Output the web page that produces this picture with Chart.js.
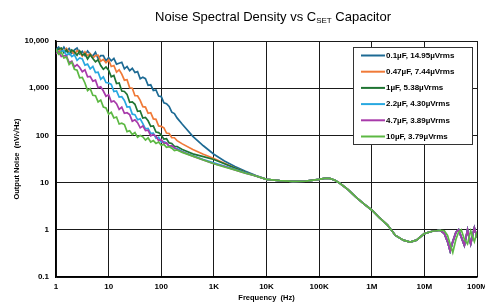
<!DOCTYPE html>
<html>
<head>
<meta charset="utf-8">
<script src="https://cdn.jsdelivr.net/npm/chart.js@4/dist/chart.umd.min.js"></script>
<style>
  html, body { margin: 0; padding: 0; background: #fff; }
  #wrap { width: 485px; height: 305px; }
</style>
</head>
<body>
<div id="wrap"><canvas id="noiseChart" width="485" height="305"></canvas></div>
<script>
// Frequency points (Hz), low / mid band shared by every capacitor curve
const freqLow = [1, 1.122, 1.259, 1.413, 1.585, 1.778, 1.995, 2.239, 2.512, 2.818, 3.162, 3.548, 3.981, 4.467, 5.012, 5.623, 6.31, 7.079, 7.943, 8.913,
  10, 11.22, 12.59, 14.13, 15.85, 17.78, 19.95, 22.39, 25.12, 28.18, 31.62, 35.48, 39.81, 44.67, 50.12, 56.23, 63.1, 70.79, 79.43, 89.13,
  100, 112.2, 125.9, 141.3, 158.5, 177.8, 199.5, 251.2, 398.1, 631, 1000, 1585, 2512, 3981, 6310];

// Output noise (nV/rtHz) for each C_SET value
const noise01 = [6610, 7413, 6026, 7413, 6026, 6918, 5495, 6457, 7079, 5370, 6026, 4898, 6166, 5248, 4786, 5754, 4266, 4898, 4898, 3802,
  4467, 3802, 4266, 3236, 3388, 3548, 2570, 2884, 2344, 2630, 2150, 2250, 1590, 1700, 1590, 1150, 1180, 895, 915, 680,
  665, 490, 470, 410, 310, 290, 235, 172, 95.5, 60.3, 39.8, 28.8, 21.9, 17.4, 14.1];
const noise047 = [6761, 5754, 6918, 5888, 6918, 5623, 6166, 5129, 6310, 5754, 4786, 5888, 4898, 5370, 4365, 4898, 5012, 3715, 4074, 3467,
  3981, 2884, 3020, 2188, 2455, 1995, 1479, 1514, 1023, 1000, 692, 692, 550, 407, 398, 295, 302, 224, 219, 158.5,
  155, 144.5, 112, 110, 89.1, 89.1, 77.6, 66.1, 50.1, 39.8, 32.4, 25.7, 20.4, 16.6, 13.8];
const noise1 = [6026, 6761, 7079, 5623, 6457, 5248, 6457, 5888, 5012, 6166, 5012, 5370, 4169, 5129, 4266, 3631, 3981, 3020, 2512, 2818,
  2399, 1738, 1862, 1259, 1288, 871, 851, 741, 501, 513, 457, 324, 331, 234, 240, 204, 155, 158.5, 117.5, 114.8,
  102.3, 83.2, 85.1, 69.2, 67.6, 58.9, 58.2, 50.1, 40.7, 35.5, 30.9, 25.1, 20.4, 16.6, 13.8];
const noise22 = [6607, 5495, 6026, 6310, 4898, 5623, 4677, 5129, 3890, 4365, 4169, 3090, 3236, 2570, 2884, 2138, 2188, 1549, 1738, 1318,
  1288, 1202, 851, 871, 646, 661, 550, 398, 407, 282, 275, 214, 224, 178, 138, 141, 110, 112, 87.1, 91.2,
  72.4, 74.1, 69.2, 58.9, 60.3, 53.7, 52.5, 45.7, 37.2, 30.9, 26.3, 22.4, 19.1, 16.2, 13.8];
const noise47 = [5370, 5888, 4677, 4898, 4786, 3467, 3715, 2818, 3162, 2754, 2239, 2455, 1738, 1778, 1413, 1479, 1023, 1072, 871, 676,
  724, 513, 537, 468, 355, 398, 295, 302, 275, 200, 214, 186, 144.5, 158.5, 125.9, 128.8, 97.7, 104.7, 95.5, 77.6,
  81.3, 67.6, 69.2, 58.9, 60.3, 55, 50.1, 44.7, 36.3, 30.2, 25.1, 21.9, 18.6, 15.8, 13.8];
const noise10 = [6607, 5248, 5754, 4365, 4571, 3162, 3548, 2512, 2399, 1660, 1698, 1288, 891, 977, 708, 692, 513, 562, 398, 380,
  282, 309, 234, 245, 174, 182, 170, 120, 125.9, 104.7, 114.8, 91.2, 100, 93.3, 79.4, 89.1, 72.4, 77.6, 67.6, 72.4,
  61.7, 64.6, 56.2, 57.5, 53.7, 47.9, 49, 43.7, 36.3, 30.2, 25.1, 21.4, 18.6, 15.8, 13.8];

// High frequency band, where all curves sit on top of each other
const freqTail = [10000, 17783, 31623, 56234, 1e5, 125893, 158489, 199526, 251189, 354813, 501187, 707946,
  1e6, 1.413e6, 1.995e6, 2.818e6, 3.981e6, 5.37e6, 7.079e6, 1e7, 1.413e7, 1.995e7,
  2.399e7, 2.754e7, 3.09e7, 3.467e7, 3.981e7, 4.467e7, 5.012e7, 5.754e7, 6.607e7, 7.586e7, 8.913e7, 1e8];
const tailNoiseA = [11.7, 11.0, 10.6, 10.7, 11.7, 12.3, 12.3, 11.2, 9.55, 7.08, 4.9, 3.55,
  2.63, 1.78, 1.26, 0.759, 0.603, 0.55, 0.603, 0.832, 0.933, 0.977,
  0.832, 0.562, 0.355, 0.562, 0.891, 1.0, 0.708, 0.468, 1.0, 0.501, 1.096, 0.692];
const tailNoiseB = [11.7, 11.0, 10.6, 10.7, 11.7, 12.3, 12.3, 11.2, 9.55, 7.08, 4.9, 3.55,
  2.63, 1.78, 1.26, 0.759, 0.603, 0.55, 0.603, 0.832, 0.933, 0.977,
  0.955, 0.759, 0.501, 0.331, 0.631, 0.891, 1.0, 0.631, 0.501, 0.955, 0.562, 0.891];

const seriesLabels = ['0.1µF, 14.95µVrms', '0.47µF, 7.44µVrms', '1µF, 5.38µVrms', '2.2µF, 4.30µVrms', '4.7µF, 3.89µVrms', '10µF, 3.79µVrms'];
const seriesColors = ['#1d6a94', '#f07a38', '#1f7432', '#27a8e0', '#a83aaa', '#5cb843'];
const seriesLow = [noise01, noise047, noise1, noise22, noise47, noise10];
const seriesTail = [tailNoiseA, tailNoiseA, tailNoiseA, tailNoiseA, tailNoiseA, tailNoiseB];

const xTickValues = [1, 10, 100, 1e3, 1e4, 1e5, 1e6, 1e7, 1e8];
const xTickLabels = ['1', '10', '100', '1K', '10K', '100K', '1M', '10M', '100M'];
const yTickValues = [0.1, 1, 10, 100, 1000, 10000];
const yTickLabels = ['0.1', '1', '10', '100', '1,000', '10,000'];

const FONT = "'Liberation Sans', Arial, Helvetica, sans-serif";

const datasets = seriesLabels.map((label, i) => ({
    label,
    data: freqLow.map((f, j) => ({ x: f, y: seriesLow[i][j] }))
        .concat(freqTail.map((f, j) => ({ x: f, y: seriesTail[i][j] }))),
    borderColor: seriesColors[i],
    backgroundColor: seriesColors[i],
    borderWidth: 1.7,
    pointRadius: 0,
    tension: 0,
    order: 6 - i
}));

// Title with subscript, drawn on the canvas
const titlePlugin = {
    id: 'subTitle',
    afterDraw(chart) {
        const ctx = chart.ctx;
        const partA = 'Noise Spectral Density vs C';
        const partB = 'SET';
        const partC = ' Capacitor';
        ctx.save();
        ctx.fillStyle = '#000';
        ctx.textBaseline = 'middle';
        ctx.textAlign = 'left';
        ctx.font = '13px ' + FONT;
        const wA = ctx.measureText(partA).width;
        const wC = ctx.measureText(partC).width;
        ctx.font = '8px ' + FONT;
        const wB = ctx.measureText(partB).width;
        let x = 273 - (wA + wB + wC) / 2;
        ctx.font = '13px ' + FONT;
        ctx.fillText(partA, x, 17);
        x += wA;
        ctx.font = '8px ' + FONT;
        ctx.fillText(partB, x, 21);
        x += wB;
        ctx.font = '13px ' + FONT;
        ctx.fillText(partC, x, 17);
        ctx.restore();
    }
};

// Boxed legend inside the plot, top right
const boxLegend = {
    id: 'boxLegend',
    afterDraw(chart) {
        const ctx = chart.ctx;
        const bx = 353, by = 47, bw = 119, bh = 97;
        ctx.save();
        ctx.fillStyle = '#fff';
        ctx.fillRect(bx, by, bw, bh);
        ctx.strokeStyle = '#333';
        ctx.lineWidth = 1;
        ctx.strokeRect(bx + 0.5, by + 0.5, bw, bh);
        ctx.font = 'bold 8px ' + FONT;
        ctx.textBaseline = 'middle';
        ctx.textAlign = 'left';
        chart.data.datasets.forEach((ds, i) => {
            const y = 55.5 + i * 16.2;
            ctx.strokeStyle = ds.borderColor;
            ctx.lineWidth = 2;
            ctx.beginPath();
            ctx.moveTo(361, y);
            ctx.lineTo(385, y);
            ctx.stroke();
            ctx.fillStyle = '#000';
            ctx.fillText(ds.label, 386, y);
        });
        ctx.restore();
    }
};

new Chart(document.getElementById('noiseChart'), {
    type: 'line',
    data: { datasets },
    options: {
        responsive: false,
        animation: false,
        devicePixelRatio: 1,
        layout: { padding: { top: 41, right: 8, bottom: 0, left: 0 } },
        plugins: {
            legend: { display: false },
            title: { display: false },
            tooltip: { enabled: false }
        },
        scales: {
            x: {
                type: 'logarithmic',
                min: 1,
                max: 1e8,
                afterBuildTicks: s => { s.ticks = xTickValues.map(v => ({ value: v })); },
                afterFit: s => { s.height = 28; s.paddingLeft = 0; s.paddingRight = 0; },
                ticks: {
                    autoSkip: false,
                    maxRotation: 0,
                    padding: 5,
                    color: '#000',
                    font: { family: FONT, size: 8, weight: 'bold' },
                    callback: (v, i) => xTickLabels[i]
                },
                grid: { color: '#1a1a1a', lineWidth: 1, drawTicks: false },
                border: { color: '#000', width: 1.5 },
                title: {
                    display: true,
                    text: 'Frequency  (Hz)',
                    color: '#000',
                    font: { family: FONT, size: 7.5, weight: 'bold' },
                    padding: { top: 0, bottom: 3 }
                }
            },
            y: {
                type: 'logarithmic',
                min: 0.1,
                max: 10000,
                afterBuildTicks: s => { s.ticks = yTickValues.map(v => ({ value: v })); },
                afterFit: s => { s.width = 56; s.paddingTop = 0; s.paddingBottom = 0; },
                ticks: {
                    autoSkip: false,
                    padding: 7,
                    color: '#000',
                    font: { family: FONT, size: 8, weight: 'bold' },
                    callback: (v, i) => yTickLabels[i]
                },
                grid: { color: '#1a1a1a', lineWidth: 1, drawTicks: false },
                border: { color: '#000', width: 1.5 },
                title: {
                    display: true,
                    text: 'Output Noise  (nV/√Hz)',
                    color: '#000',
                    font: { family: FONT, size: 7.5, weight: 'bold' },
                    padding: { top: 12, bottom: 0 }
                }
            }
        }
    },
    plugins: [titlePlugin, boxLegend]
});
</script>
</body>
</html>
